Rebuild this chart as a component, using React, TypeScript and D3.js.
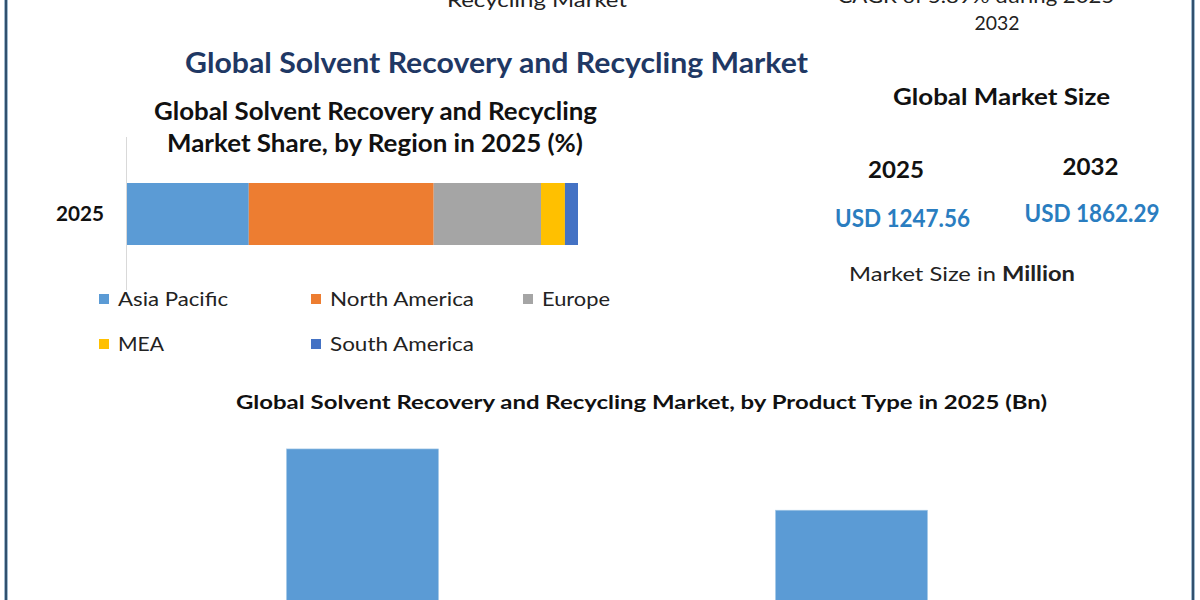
import React from "react";
import * as d3 from "d3";

// ---- data ----
const regionYear = ["2025"];
const regions = ["Asia Pacific", "North America", "Europe", "MEA", "South America"];
const regionShare = [27.0, 41.0, 23.8, 5.3, 2.9];
const regionColors = ["#5b9bd5", "#ed7d31", "#a5a5a5", "#ffc000", "#4472c4"];

const productTypes = ["Type A", "Type B"];
const productValues = [0.76, 0.6];

const sizeYears = ["2025", "2032"];
const sizeValues = ["USD 1247.56", "USD 1862.29"];

const FONT = "Lato, 'Open Sans', sans-serif";

export default function App() {
  const W = 1200;
  const H = 600;

  // stacked region bar
  const x = d3.scaleLinear().domain([0, 100]).range([127, 578]);
  const y = d3.scaleBand().domain(regionYear).range([183, 245]).padding(0);
  const stackRow = [Object.fromEntries(regions.map((r, i) => [r, regionShare[i]]))];
  const series = d3.stack<any>().keys(regions)(stackRow as any);

  // product type bars
  const xb = d3
    .scaleBand()
    .domain(productTypes)
    .range([118, 1096])
    .paddingInner(0.689)
    .paddingOuter(0.3445);
  const yb = d3.scaleLinear().domain([0, 1]).range([740, 357]);

  const legendPos = [
    [99, 299],
    [311, 299],
    [523, 299],
    [99, 344],
    [311, 344],
  ];
  const legendWidths = [110, 144, 68, 46, 144];

  return (
    <svg
      width={W}
      height={H}
      style={{ position: "absolute", left: 0, top: 0, background: "#fff" }}
      fontFamily={FONT}
    >
      <rect x={0} y={0} width={W} height={H} fill="#ffffff" />
      {/* frame lines */}
      <line x1={6} x2={6} y1={0} y2={H} stroke="#bcd6e6" strokeWidth={4} />
      <line x1={6} x2={6} y1={0} y2={H} stroke="#31506e" strokeWidth={2.4} />
      <line x1={1193} x2={1193} y1={0} y2={H} stroke="#bcd6e6" strokeWidth={4} />
      <line x1={1193} x2={1193} y1={0} y2={H} stroke="#31506e" strokeWidth={2.4} />

      {/* top texts, cut at the edge as in the reference */}
      <text x={537} y={7} textAnchor="middle" fontSize={20} fill="#222" textLength={180} lengthAdjust="spacingAndGlyphs">
        Recycling Market
      </text>
      <text x={980} y={3} textAnchor="middle" fontSize={20} fill="#222" textLength={285} lengthAdjust="spacingAndGlyphs">
        CAGR of 5.89% during 2025-
      </text>
      <text x={997} y={30} textAnchor="middle" fontSize={20} fill="#222" textLength={45} lengthAdjust="spacingAndGlyphs">
        2032
      </text>

      {/* main title */}
      <text x={496.5} y={73} textAnchor="middle" fontSize={28} fontWeight="bold" fill="#1f3864" textLength={623} lengthAdjust="spacingAndGlyphs">
        Global Solvent Recovery and Recycling Market
      </text>

      {/* region chart title */}
      <text x={375.5} y={120} textAnchor="middle" fontSize={24} fontWeight="bold" fill="#111" textLength={443} lengthAdjust="spacingAndGlyphs">
        Global Solvent Recovery and Recycling
      </text>
      <text x={375} y={152} textAnchor="middle" fontSize={24} fontWeight="bold" fill="#111" textLength={416} lengthAdjust="spacingAndGlyphs">
        Market Share, by Region in 2025 (%)
      </text>

      {/* axis line */}
      <line x1={126.5} x2={126.5} y1={137} y2={290} stroke="#d9d9d9" strokeWidth={1} />
      {regionYear.map((yr) => (
        <text key={yr} x={104} y={(y(yr) ?? 0) + y.bandwidth() / 2 + 7} textAnchor="end" fontSize={20} fontWeight="bold" fill="#111" textLength={48} lengthAdjust="spacingAndGlyphs">
          {yr}
        </text>
      ))}
      {series.map((s, i) => (
        <g key={s.key}>
          {s.map((d, j) => (
            <rect
              key={j}
              x={x(d[0])}
              y={y(regionYear[j])}
              width={x(d[1]) - x(d[0])}
              height={y.bandwidth()}
              fill={regionColors[i]}
            />
          ))}
        </g>
      ))}

      {/* legend */}
      {regions.map((r, i) => (
        <g key={r}>
          <rect x={legendPos[i][0]} y={legendPos[i][1] - 5} width={10} height={10} fill={regionColors[i]} />
          <text x={legendPos[i][0] + 19} y={legendPos[i][1] + 7} fontSize={20} fill="#222" textLength={legendWidths[i]} lengthAdjust="spacingAndGlyphs">
            {r}
          </text>
        </g>
      ))}

      {/* right panel */}
      <text x={1001.5} y={105} textAnchor="middle" fontSize={22} fontWeight="bold" fill="#111" textLength={217} lengthAdjust="spacingAndGlyphs">
        Global Market Size
      </text>
      {sizeYears.map((yr, i) => (
        <text key={yr} x={[896, 1090.5][i]} y={[178, 175][i]} textAnchor="middle" fontSize={22} fontWeight="bold" fill="#111" textLength={56} lengthAdjust="spacingAndGlyphs">
          {yr}
        </text>
      ))}
      {sizeValues.map((v, i) => (
        <text key={v} x={[902.5, 1092][i]} y={[227, 222][i]} textAnchor="middle" fontSize={24} fontWeight="bold" fill="#2a7dc0" textLength={135} lengthAdjust="spacingAndGlyphs">
          {v}
        </text>
      ))}
      <text x={962} y={281} textAnchor="middle" fontSize={20} fill="#222" textLength={226} lengthAdjust="spacingAndGlyphs">
        Market Size in <tspan fontWeight="bold">Million</tspan>
      </text>

      {/* product type chart */}
      <text x={641.5} y={409} textAnchor="middle" fontSize={19} fontWeight="bold" fill="#111" textLength={811} lengthAdjust="spacingAndGlyphs">
        Global Solvent Recovery and Recycling Market, by Product Type  in 2025 (Bn)
      </text>
      {productTypes.map((p, i) => (
        <rect
          key={p}
          x={xb(p)}
          y={yb(productValues[i])}
          width={xb.bandwidth()}
          height={yb(0) - yb(productValues[i])}
          fill="#5b9bd5"
          stroke="#a9cbe8"
          strokeWidth={0.6}
        />
      ))}
    </svg>
  );
}
